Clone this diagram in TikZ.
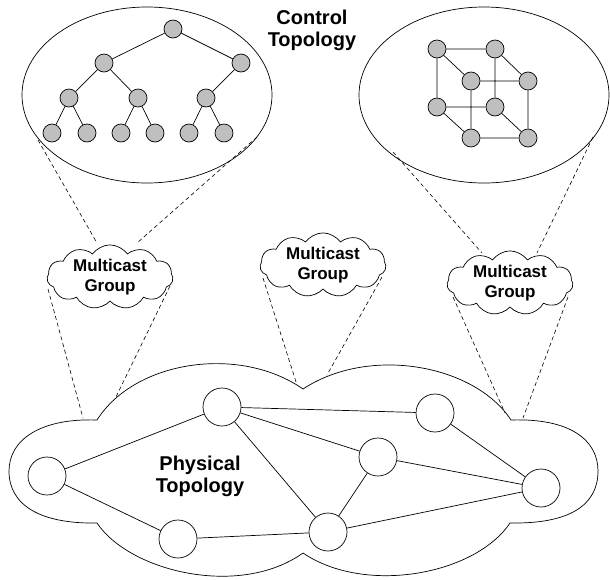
\documentclass[tikz,border=0pt]{standalone}
\usepackage{fontspec}
\setmainfont{Liberation Sans}
\usetikzlibrary{shapes.geometric,shapes.symbols}
\begin{document}
\begin{tikzpicture}[x=1pt,y=-1pt,line width=0.7pt,
  gnode/.style={circle,draw,fill=black!25,minimum size=18pt,inner sep=0pt},
  pnode/.style={circle,draw,fill=white,minimum size=38pt,inner sep=0pt},
  bigell/.style={ellipse,draw,minimum width=250pt,minimum height=176pt,inner sep=0pt},
  mcloud/.style={cloud,draw,cloud puffs=11,cloud puff arc=110,aspect=2.1,minimum width=126pt,minimum height=62pt,inner sep=0pt,font=\fontsize{17}{20}\selectfont\bfseries,align=center},
  lbl/.style={font=\fontsize{20}{22}\selectfont\bfseries,align=center},
  dsh/.style={dash pattern=on 4pt off 3pt,line width=0.6pt}]
\useasboundingbox (0,0) rectangle (610,579);
% control topologies
\node[bigell] (lell) at (147,95) {};
\node[bigell] (rell) at (484,95) {};
\node[lbl] (ctl) at (312,30) {Control\\Topology};
% tree
\node[gnode] (t0) at (173,29) {};
\node[gnode] (t1) at (104,63) {};
\node[gnode] (t2) at (241,63) {};
\node[gnode] (t3) at (69,98) {};
\node[gnode] (t4) at (138,98) {};
\node[gnode] (t5) at (206,98) {};
\node[gnode] (t6) at (52,133) {};
\node[gnode] (t7) at (87,133) {};
\node[gnode] (t8) at (121,133) {};
\node[gnode] (t9) at (155,133) {};
\node[gnode] (t10) at (189,133) {};
\node[gnode] (t11) at (224,133) {};
\draw (t0)--(t1) (t0)--(t2) (t1)--(t3) (t1)--(t4) (t2)--(t5)
      (t3)--(t6) (t3)--(t7) (t4)--(t8) (t4)--(t9) (t5)--(t10) (t5)--(t11);
% cube
\node[gnode] (c1) at (437,49) {};
\node[gnode] (c2) at (495,49) {};
\node[gnode] (c3) at (471,81) {};
\node[gnode] (c4) at (528,81) {};
\node[gnode] (c5) at (437,107) {};
\node[gnode] (c6) at (495,107) {};
\node[gnode] (c7) at (471,138) {};
\node[gnode] (c8) at (528,138) {};
\draw (c1)--(c2) (c1)--(c5) (c1)--(c3) (c2)--(c6) (c2)--(c4) (c3)--(c4)
      (c3)--(c7) (c4)--(c8) (c5)--(c6) (c5)--(c7) (c6)--(c8) (c7)--(c8);
% multicast clouds
\node[mcloud] (mg1) at (110,277) {Multicast\\Group};
\node[mcloud] (mg2) at (323,265) {Multicast\\Group};
\node[mcloud] (mg3) at (510,283) {Multicast\\Group};
% physical cloud
\draw (97,420) .. controls (40,418) and (9,440) .. (9,471)
  .. controls (9,505) and (40,524) .. (97,523)
  .. controls (130,572) and (240,598) .. (303,553)
  .. controls (365,595) and (475,575) .. (510,523)
  .. controls (570,524) and (598,505) .. (598,471)
  .. controls (598,440) and (570,418) .. (511,420)
  .. controls (475,365) and (370,345) .. (303,389)
  .. controls (240,345) and (135,360) .. (97,420) -- cycle;
\node[lbl] (phy) at (200,476) {Physical\\Topology};
% physical nodes
\node[pnode] (p1) at (47,476) {};
\node[pnode] (p2) at (222,407) {};
\node[pnode] (p3) at (178,539) {};
\node[pnode] (p4) at (435,413) {};
\node[pnode] (p5) at (378,457) {};
\node[pnode] (p6) at (541,488) {};
\node[pnode] (p7) at (328,532) {};
\draw (p1)--(p2) (p1)--(p3) (p2)--(p4) (p2)--(p5) (p2)--(p7) (p3)--(p7)
      (p4)--(p6) (p5)--(p6) (p5)--(p7) (p7)--(p6);
% dashed connector end points
\coordinate (la1) at (38,140);
\coordinate (la2) at (257,137);
\coordinate (lb1) at (97,243);
\coordinate (lb2) at (137,243);
\coordinate (lc1) at (48,289);
\coordinate (lc2) at (170,286);
\coordinate (ld1) at (83,418);
\coordinate (ld2) at (115,399);
\coordinate (ma1) at (263,278);
\coordinate (ma2) at (382,277);
\coordinate (mb1) at (297,385);
\coordinate (mb2) at (327,375);
\coordinate (ra1) at (393,152);
\coordinate (ra2) at (593,137);
\coordinate (rb1) at (482,253);
\coordinate (rb2) at (537,253);
\coordinate (rc1) at (453,297);
\coordinate (rc2) at (568,297);
\coordinate (rd1) at (505,413);
\coordinate (rd2) at (523,418);
\draw[dsh] (la1)--(lb1) (la2)--(lb2) (lc1)--(ld1) (lc2)--(ld2)
  (ma1)--(mb1) (ma2)--(mb2)
  (ra1)--(rb1) (ra2)--(rb2) (rc1)--(rd1) (rc2)--(rd2);
\end{tikzpicture}
\end{document}
